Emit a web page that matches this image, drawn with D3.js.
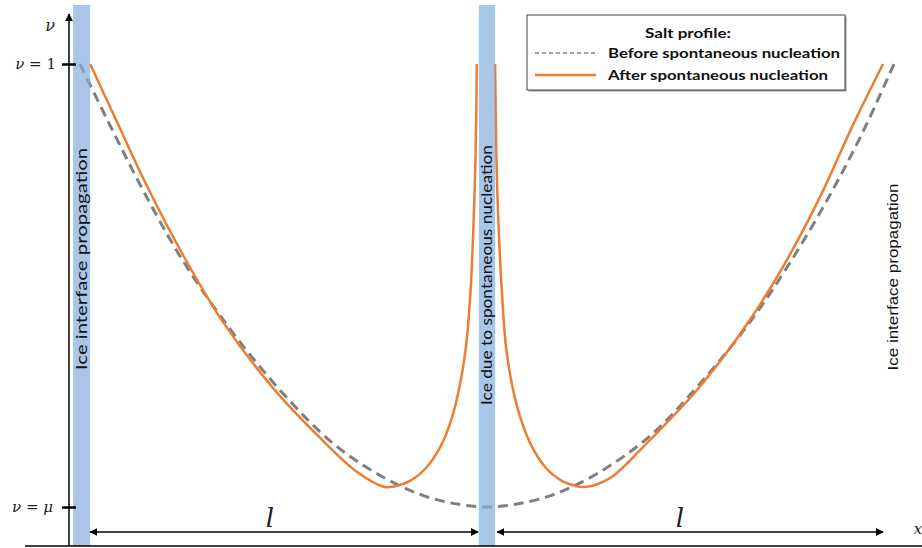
<!DOCTYPE html>
<html>
<head>
<meta charset="utf-8">
<script src="https://cdn.jsdelivr.net/npm/d3@7"></script>
<style>
  body { margin: 0; background: #fff; }
  .math { font-family: "DejaVu Serif", serif; }
  .label { font-family: Lato, "Open Sans", sans-serif; }
</style>
</head>
<body>
<div id="chart"></div>
<script>
// Chart data (x in units where 0 = left ice front, 1 = nucleation site, 2 = right ice front;
// y is normalised salt, 0 = mu, 1 = 1)
// ==============================
var beforeX = [0, 0.08, 0.155, 0.25, 0.37, 0.5, 0.62, 0.73, 0.84, 0.93, 1.0,
  1.07, 1.16, 1.27, 1.40, 1.52, 1.64, 1.74, 1.84, 1.92, 2.0];
var beforeY = [1.0, 0.85, 0.715, 0.56, 0.40, 0.255, 0.145, 0.075, 0.027, 0.006, 0,
  0.006, 0.027, 0.075, 0.16, 0.275, 0.41, 0.545, 0.70, 0.84, 1.0];

var afterLeftX = [0.025, 0.091, 0.167, 0.253, 0.351, 0.474, 0.590, 0.681, 0.749,
  0.774, 0.811, 0.850, 0.885, 0.912, 0.932, 0.948, 0.960, 0.967, 0.972, 0.975];
var afterLeftY = [1.0, 0.869, 0.720, 0.569, 0.418, 0.269, 0.156, 0.079, 0.045,
  0.047, 0.059, 0.088, 0.135, 0.196, 0.269, 0.359, 0.494, 0.643, 0.795, 1.0];

var afterRightX = [1.020, 1.023, 1.028, 1.036, 1.047, 1.063, 1.084, 1.111, 1.145, 1.184,
  1.221, 1.241, 1.273, 1.310, 1.400, 1.516, 1.639, 1.737, 1.823, 1.899, 1.973];
var afterRightY = [1.0, 0.795, 0.643, 0.494, 0.359, 0.269, 0.196, 0.135, 0.088, 0.059,
  0.047, 0.045, 0.052, 0.070, 0.151, 0.264, 0.413, 0.558, 0.709, 0.862, 1.0];

// ice bands
var bandStart = [-0.017, 0.980];
var bandEnd = [0.025, 1.020];
var bandText = ["Ice interface propagation", "Ice due to spontaneous nucleation"];

// length arrows
var spanStart = [0.025, 1.025];
var spanEnd = [0.978, 1.973];
var spanText = ["l", "l"];

// y ticks
var yTickValues = [0, 1];
var yTickNames = ["\u03bc", "1"];

var legendTitle = "Salt profile:";
var legendNames = ["Before spontaneous nucleation", "After spontaneous nucleation"];

// Define SVG area
// ==============================
var svgWidth = 922;
var svgHeight = 548;

var svg = d3.select("#chart")
  .append("svg")
  .attr("width", svgWidth)
  .attr("height", svgHeight);

var orange = "#ed7d31";
var grey = "#7f7f7f";
var blue = "#83afde";

// Scales
// ==============================
var xScale = d3.scaleLinear().domain([0, 2]).range([80, 894]);
var yScale = d3.scaleLinear().domain([0, 1]).range([507, 64]);

var axisX = 69;
var baseY = 546;
var topY = 14;
var arrowY = 532;

// markers
var defs = svg.append("defs");
defs.append("marker")
  .attr("id", "head")
  .attr("viewBox", "0 0 10 10")
  .attr("refX", 9).attr("refY", 5)
  .attr("markerWidth", 8).attr("markerHeight", 8)
  .attr("markerUnits", "userSpaceOnUse")
  .attr("orient", "auto-start-reverse")
  .append("path")
  .attr("d", "M0,0L10,5L0,10Z")
  .attr("fill", "#000");

// Curves
// ==============================
var line = d3.line()
  .x(d => xScale(d[0]))
  .y(d => yScale(d[1]))
  .curve(d3.curveCatmullRom.alpha(0.5));

svg.append("path")
  .datum(d3.zip(beforeX, beforeY))
  .attr("d", line)
  .attr("fill", "none")
  .attr("stroke", grey)
  .attr("stroke-width", 3)
  .attr("stroke-dasharray", "10,6");

[d3.zip(afterLeftX, afterLeftY), d3.zip(afterRightX, afterRightY)].forEach(function(pts) {
  svg.append("path")
    .datum(pts)
    .attr("d", line)
    .attr("fill", "none")
    .attr("stroke", orange)
    .attr("stroke-width", 2.5);
});

// Ice bands (semi transparent, on top of the curves)
// ==============================
svg.selectAll("rect.band")
  .data(d3.range(bandStart.length))
  .enter().append("rect")
  .attr("class", "band")
  .attr("x", i => xScale(bandStart[i]))
  .attr("width", i => xScale(bandEnd[i]) - xScale(bandStart[i]))
  .attr("y", 5)
  .attr("height", baseY - 5)
  .attr("fill", blue)
  .attr("fill-opacity", 0.7);

svg.selectAll("text.band")
  .data(d3.range(bandStart.length))
  .enter().append("text")
  .attr("class", "label")
  .attr("transform", i => `translate(${xScale((bandStart[i] + bandEnd[i]) / 2) + 5}, ${i == 0 ? 259 : 275}) rotate(-90)`)
  .attr("text-anchor", "middle")
  .attr("font-size", 15)
  .attr("textLength", i => i == 0 ? 222 : 260)
  .attr("lengthAdjust", "spacingAndGlyphs")
  .attr("fill", "#111")
  .text(i => bandText[i]);

// right ice front label (no band)
svg.append("text")
  .attr("transform", `translate(${xScale(2) + 4}, 277) rotate(-90)`)
  .attr("text-anchor", "middle")
  .attr("font-family", "Liberation Sans, Arial, sans-serif")
  .attr("font-size", 14)
  .attr("textLength", 187)
  .attr("lengthAdjust", "spacingAndGlyphs")
  .attr("fill", "#111")
  .text(bandText[0]);

// Axes
// ==============================
svg.append("line")
  .attr("x1", 25).attr("x2", svgWidth)
  .attr("y1", baseY).attr("y2", baseY)
  .attr("stroke", "#000").attr("stroke-width", 1.5);

svg.append("line")
  .attr("x1", axisX).attr("x2", axisX)
  .attr("y1", baseY).attr("y2", topY)
  .attr("stroke", "#000").attr("stroke-width", 1.5)
  .attr("marker-end", "url(#head)");

var yAxis = d3.axisLeft(yScale)
  .tickValues(yTickValues)
  .tickSize(7)
  .tickFormat("");

var yAxisGroup = svg.append("g")
  .attr("transform", `translate(${axisX}, 0)`)
  .call(yAxis);
yAxisGroup.select(".domain").remove();
yAxisGroup.selectAll(".tick line")
  .attr("x1", -7).attr("x2", 7)
  .attr("stroke-width", 2.5);

var tickLabels = svg.selectAll("text.ytick")
  .data(yTickValues)
  .enter().append("text")
  .attr("class", "math")
  .attr("x", (d, i) => i == 0 ? 53 : 56)
  .attr("y", d => yScale(d) + 5)
  .attr("text-anchor", "end")
  .attr("font-size", 15)
  .attr("fill", "#222");
tickLabels.append("tspan").attr("font-style", "italic").text("\u03bd");
tickLabels.append("tspan").text(" = ");
tickLabels.append("tspan")
  .attr("font-style", (d, i) => i == 0 ? "italic" : "normal")
  .text((d, i) => yTickNames[i]);

svg.append("text")
  .attr("class", "math")
  .attr("x", 50).attr("y", 31)
  .attr("text-anchor", "middle")
  .attr("font-size", 16)
  .attr("font-style", "italic")
  .attr("fill", "#222")
  .text("\u03bd");

svg.append("text")
  .attr("class", "math")
  .attr("x", 918).attr("y", 534)
  .attr("text-anchor", "middle")
  .attr("font-size", 15)
  .attr("font-style", "italic")
  .attr("fill", "#222")
  .text("x");

// Length arrows
// ==============================
svg.selectAll("line.span")
  .data(d3.range(spanStart.length))
  .enter().append("line")
  .attr("x1", i => xScale(spanStart[i]))
  .attr("x2", i => xScale(spanEnd[i]))
  .attr("y1", arrowY).attr("y2", arrowY)
  .attr("stroke", "#000").attr("stroke-width", 1.5)
  .attr("marker-start", "url(#head)")
  .attr("marker-end", "url(#head)");

svg.selectAll("text.span")
  .data(d3.range(spanStart.length))
  .enter().append("text")
  .attr("class", "math")
  .attr("x", i => [270, 680][i])
  .attr("y", 527)
  .attr("text-anchor", "middle")
  .attr("font-size", 26)
  .attr("font-style", "italic")
  .attr("fill", "#222")
  .text(i => spanText[i]);

// Legend
// ==============================
var legend = svg.append("g").attr("transform", "translate(527, 15)");

legend.append("rect")
  .attr("x", 1.5).attr("y", 1.5)
  .attr("width", 318).attr("height", 75)
  .attr("fill", "#999");
legend.append("rect")
  .attr("width", 318).attr("height", 75)
  .attr("fill", "#fff")
  .attr("stroke", "#444")
  .attr("stroke-width", 1);

legend.append("text")
  .attr("class", "label")
  .attr("x", 161).attr("y", 23)
  .attr("text-anchor", "middle")
  .attr("font-size", 14)
  .attr("font-weight", 700)
  .attr("textLength", 86)
  .attr("lengthAdjust", "spacingAndGlyphs")
  .attr("fill", "#111")
  .text(legendTitle);

var legendRows = legend.selectAll("g.row")
  .data(legendNames)
  .enter().append("g")
  .attr("transform", (d, i) => `translate(0, ${38 + i * 22})`);

legendRows.append("line")
  .attr("x1", 8).attr("x2", 69)
  .attr("y1", 0).attr("y2", 0)
  .attr("stroke", (d, i) => i == 0 ? grey : orange)
  .attr("stroke-width", (d, i) => i == 0 ? 1.5 : 2.5)
  .attr("stroke-dasharray", (d, i) => i == 0 ? "4,3" : null);

legendRows.append("text")
  .attr("class", "label")
  .attr("x", 81).attr("y", 5)
  .attr("font-size", 14)
  .attr("font-weight", 700)
  .attr("textLength", (d, i) => i == 0 ? 232 : 220)
  .attr("lengthAdjust", "spacingAndGlyphs")
  .attr("fill", "#111")
  .text(d => d);
</script>
</body>
</html>
